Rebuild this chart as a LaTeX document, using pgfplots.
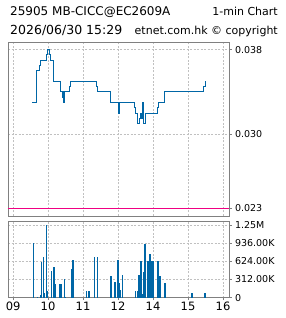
\documentclass[border=0pt]{standalone}
\usepackage{pgfplots}
\pgfplotsset{compat=1.18}
\usepackage{fontspec}
\setmainfont{DejaVu Sans}
\definecolor{lineblue}{RGB}{0,102,166}
\definecolor{pinkline}{RGB}{240,0,130}
\definecolor{framec}{RGB}{128,128,128}
\definecolor{gridc}{RGB}{192,192,192}
\begin{document}
\begin{tikzpicture}
\useasboundingbox (0pt,0pt) rectangle (285pt,318pt);
\node[anchor=base west, inner sep=0pt, font=\fontsize{12}{14}\selectfont] at (10pt,302pt) {25905 MB-CICC@EC2609A};
\node[anchor=base east, inner sep=0pt, font=\fontsize{11}{13}\selectfont] at (278pt,302pt) {1-min Chart};
\node[anchor=base west, inner sep=0pt, font=\fontsize{12.5}{14}\selectfont] at (10pt,283.7pt) {2026/06/30 15:29};
\node[anchor=base east, inner sep=0pt, font=\fontsize{11}{13}\selectfont] at (278pt,283.7pt) {etnet.com.hk © copyright};
\pgfplotsset{
  chartstyle/.style={
    scale only axis, width=221pt,
    xmin=-0.145, xmax=6.171,
    axis line style={framec, line width=0.8pt},
    xmajorgrids, ymajorgrids,
    grid style={gridc, dash pattern=on 2pt off 1.5pt, line width=0.5pt},
    tick align=outside, major tick length=2.5pt,
    tick style={framec, line width=0.6pt},
    ytick pos=right, yticklabel pos=right,
    yticklabel style={font=\fontsize{9.5}{11}\selectfont, anchor=west},
    scaled y ticks=false,
    xtick={0,1,2,3,4,5,6},
  }
}
\begin{axis}[chartstyle, at={(8pt,102pt)}, anchor=south west, height=174pt,
  ymin=0.02225, ymax=0.03873,
  ytick={0.023,0.030,0.038}, yticklabels={0.023,0.030,0.038},
  xticklabels={}, xtick style={draw=none}]
\addplot[pinkline, line width=1pt] coordinates {(-0.145,0.023) (6.171,0.023)};
\addplot[const plot, lineblue, line width=1pt] coordinates {
(0.543,0.033) (0.657,0.036) (0.752,0.0365) (0.790,0.037) (0.943,0.0375)
(0.971,0.038) (1.048,0.0375) (1.060,0.037) (1.143,0.035) (1.343,0.034)
(1.419,0.0335) (1.438,0.034) (1.448,0.033) (1.457,0.034) (1.620,0.0345)
(1.648,0.035) (2.371,0.0345) (2.400,0.034) (2.771,0.033) (3.000,0.032)
(3.048,0.033) (3.457,0.0325) (3.495,0.032) (3.562,0.031) (3.619,0.0315)
(3.650,0.032) (3.670,0.0315) (3.695,0.033) (3.714,0.031) (3.771,0.032)
(4.114,0.0325) (4.152,0.033) (4.314,0.034) (5.448,0.0345) (5.486,0.035)};
\end{axis}
\begin{axis}[chartstyle, at={(8pt,20.3pt)}, anchor=south west, height=76.7pt,
  ymin=0, ymax=1317,
  ytick={0,312,624,936,1248}, yticklabels={0,312.00K,624.00K,936.00K,1.25M},
  xticklabels={09,10,11,12,14,15,16}, xtick pos=bottom,
  xticklabel style={font=\fontsize{11.5}{13}\selectfont, inner sep=1.5pt}]
\addplot[ycomb, lineblue, line width=1.1pt] coordinates {
(0.571,939) (0.686,17) (0.781,46) (0.810,612) (0.857,698) (0.886,80)
(0.943,1248) (0.971,114) (1.086,458) (1.171,527) (1.200,235) (1.314,235)
(1.371,235) (1.457,320) (1.486,17) (1.657,492) (1.714,647) (2.086,114)
(2.171,114) (2.324,698) (2.400,698) (2.800,378) (2.914,269) (3.000,647)
(3.029,252) (3.057,132) (3.124,389) (3.486,114) (3.571,114) (3.600,389)
(3.657,630) (3.714,63) (3.743,441) (3.771,920) (3.829,114) (3.857,630)
(3.914,750) (3.943,630) (3.971,630) (4.000,630) (4.143,630) (4.200,372)
(4.343,252) (5.114,80) (5.486,80)};
\end{axis}
\end{tikzpicture}
\end{document}
